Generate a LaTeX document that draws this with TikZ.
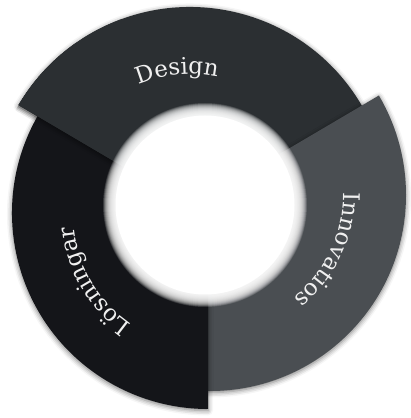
\documentclass[tikz,border=0pt]{standalone}
\usepackage{fontspec}
\setmainfont{DejaVu Serif}
\usetikzlibrary{calc,decorations.text,shadows.blur}
\definecolor{cDesign}{RGB}{43,47,50}
\definecolor{cInnov}{RGB}{74,78,82}
\definecolor{cLos}{RGB}{20,21,25}
\definecolor{cText}{RGB}{240,240,240}
\newcommand{\lblfont}{\fontsize{23}{27}\selectfont\color{cText}}
\newcommand{\designpath}{($(cD)+(28:199pt)$) arc[start angle=28, end angle=149.5, radius=199pt]
  -- ($(cD)+(149.5:60pt)$) arc[start angle=149.5, end angle=28, radius=60pt] -- cycle}
\tikzset{
  segshadow/.style={blur shadow={shadow blur radius=5pt, shadow xshift=0pt, shadow yshift=-1.5pt, shadow opacity=55}},
  ringlabel/.style={decorate, decoration={text along path, text align=center, text={#1}}}
}
\begin{document}
\begin{tikzpicture}[x=1pt,y=1pt]
\useasboundingbox (0,0) rectangle (410,418);
\coordinate (cD) at (190,212);
\coordinate (cI) at (210,223);
\coordinate (cL) at (208,205);
\coordinate (cH) at (205,213);
% Design
\path[fill=cDesign, segshadow] \designpath;
% Innovatios
\path[fill=cInnov, segshadow] ($(cI)+(-93:196pt)$) arc[start angle=-93, end angle=30.5, radius=196pt]
  -- ($(cI)+(30.5:60pt)$) arc[start angle=30.5, end angle=-93, radius=60pt] -- cycle;
% Loesningar
\path[fill=cLos, segshadow] ($(cL)+(147:196pt)$) arc[start angle=147, end angle=270, radius=196pt]
  -- ($(cL)+(270:60pt)$) arc[start angle=270, end angle=147, radius=60pt] -- cycle;
% Design again over the left joint
\begin{scope}
\clip (cD) -- ($(cD)+(125:199pt)$) arc[start angle=125, end angle=172, radius=199pt] -- cycle;
\path[fill=cDesign, segshadow] \designpath;
\end{scope}
\begin{scope}
\clip (cD) -- ($(cD)+(110:199pt)$) arc[start angle=110, end angle=172, radius=199pt] -- cycle;
\fill[cDesign] \designpath;
\end{scope}
% hole
\foreach \r in {102,101.5,...,90} \fill[white, fill opacity=0.12] (cH) circle[radius=\r pt];
\fill[white] (cH) circle[radius=89.5pt];
% labels
\path[ringlabel={|\lblfont|Design}] ($(cD)+(135.5:132pt)$) arc[start angle=135.5, end angle=55.5, radius=132pt];
\path[ringlabel={|\lblfont|Innovatios}] ($(cI)+(25:133pt)$) arc[start angle=25, end angle=-75, radius=133pt];
\path[ringlabel={|\lblfont|Lösningar}] ($(cL)+(260.7:135pt)$) arc[start angle=260.7, end angle=160.7, radius=135pt];
\end{tikzpicture}
\end{document}
